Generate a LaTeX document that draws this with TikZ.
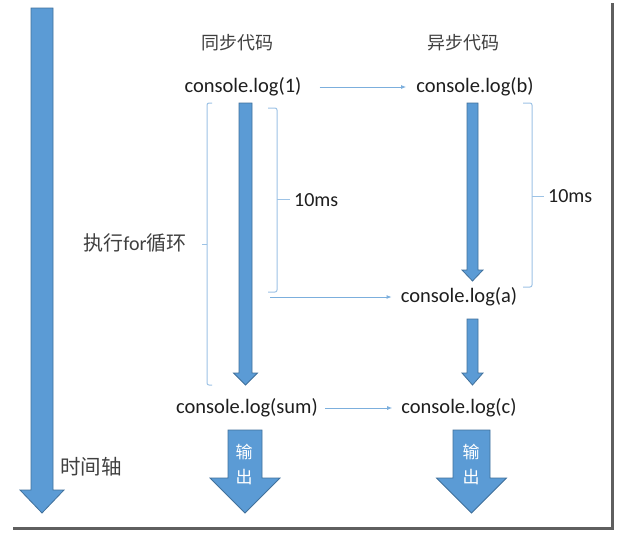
\documentclass[tikz,border=0pt]{standalone}
\usepackage{fontspec}
\setmainfont{Carlito}
\newfontfamily\cjk{Noto Sans CJK SC}
\usetikzlibrary{arrows.meta}
\definecolor{afill}{RGB}{91,155,213}
\definecolor{aedge}{RGB}{65,113,156}
\definecolor{brk}{RGB}{157,195,230}
\definecolor{conn}{RGB}{91,155,213}
\definecolor{txt}{RGB}{30,30,30}
\definecolor{cntxt}{RGB}{64,64,64}
\definecolor{shadow}{RGB}{95,95,95}
\newcommand\myarrow[6]{% cx, top, shaft half, head half, base, tip
  \filldraw[blockarrow] (#1-#3,#2) -- (#1+#3,#2) -- (#1+#3,#5) -- (#1+#4,#5) -- (#1,#6) -- (#1-#4,#5) -- (#1-#3,#5) -- cycle;}
\begin{document}
\begin{tikzpicture}[x=1pt,y=-1pt,
  blockarrow/.style={fill=afill,draw=aedge,line width=0.8pt,line join=miter},
  code/.style={inner sep=0pt,font=\fontsize{20.5}{22}\selectfont,text=txt},
  cnlabel/.style={inner sep=0pt,font=\cjk\fontsize{18}{20}\selectfont,text=cntxt},
  mslabel/.style={inner sep=0pt,font=\fontsize{20}{22}\selectfont,text=txt},
  bracket/.style={draw=brk,line width=1pt,rounded corners=2pt},
  connline/.style={draw=conn!80,line width=0.9pt,-{Latex[length=5pt,width=4pt]}},
  outtext/.style={inner sep=0pt,font=\cjk\fontsize{17}{19}\selectfont,text=white}]
\useasboundingbox (0,0) rectangle (621,536);
\fill[white] (0,0) rectangle (621,536);
% frame shadow
\draw[shadow,line width=3pt] (612,3) -- (612,528) -- (13,528);
% big time axis arrow
\myarrow{42}{8}{11}{22}{490}{513}
\node[cnlabel,font=\cjk\fontsize{20.5}{22}\selectfont] (axis) at (91,467) {时间轴};
% headings
\node[cnlabel] (t1) at (237,43) {同步代码};
\node[cnlabel] (t2) at (463,43) {异步代码};
% code nodes
\node[code] (c1) at (243,87) {console.log(1)};
\node[code] (cb) at (475,87) {console.log(b)};
\node[code] (ca) at (459,297) {console.log(a)};
\node[code] (csum) at (247,408) {console.log(sum)};
\node[code] (cc) at (459,408) {console.log(c)};
% block arrows
\myarrow{245.5}{103}{6.5}{12}{373}{385}
\myarrow{472.5}{103}{5.5}{10.5}{270}{281}
\myarrow{472.5}{319}{5.5}{10.5}{373}{385}
\myarrow{245}{430}{17}{35}{478}{513}
\myarrow{471.5}{430}{18.5}{35}{478}{513}
\node[outtext] (o1a) at (244,452) {输};
\node[outtext] (o1b) at (244,477) {出};
\node[outtext] (o2a) at (471,452) {输};
\node[outtext] (o2b) at (471,477) {出};
% brackets
\draw[bracket] (212,103) -- (207,103) -- (207,385) -- (212,385);
\draw[bracket] (207,244) -- (202,244);
\node[cnlabel,font=\fontsize{20}{22}\selectfont] (loop) at (135,243) {{\cjk 执行}for{\cjk 循环}};
\draw[bracket] (268,108) -- (277,108) -- (277,292) -- (268,292);
\draw[bracket] (277,199) -- (290,199);
\node[mslabel,anchor=west] (ms1) at (294,200) {10ms};
\draw[bracket] (523,103) -- (532,103) -- (532,287) -- (523,287);
\draw[bracket] (532,196) -- (544,196);
\node[mslabel,anchor=west] (ms2) at (548,196) {10ms};
% connectors
\draw[connline] ([xshift=18pt]c1.east) -- ([xshift=-10pt]cb.west);
\coordinate (bend) at (270,297);
\draw[connline] (bend) -- ([xshift=-9pt]ca.west);
\draw[connline] ([xshift=7pt]csum.east) -- ([xshift=-9pt]cc.west);
\end{tikzpicture}
\end{document}
